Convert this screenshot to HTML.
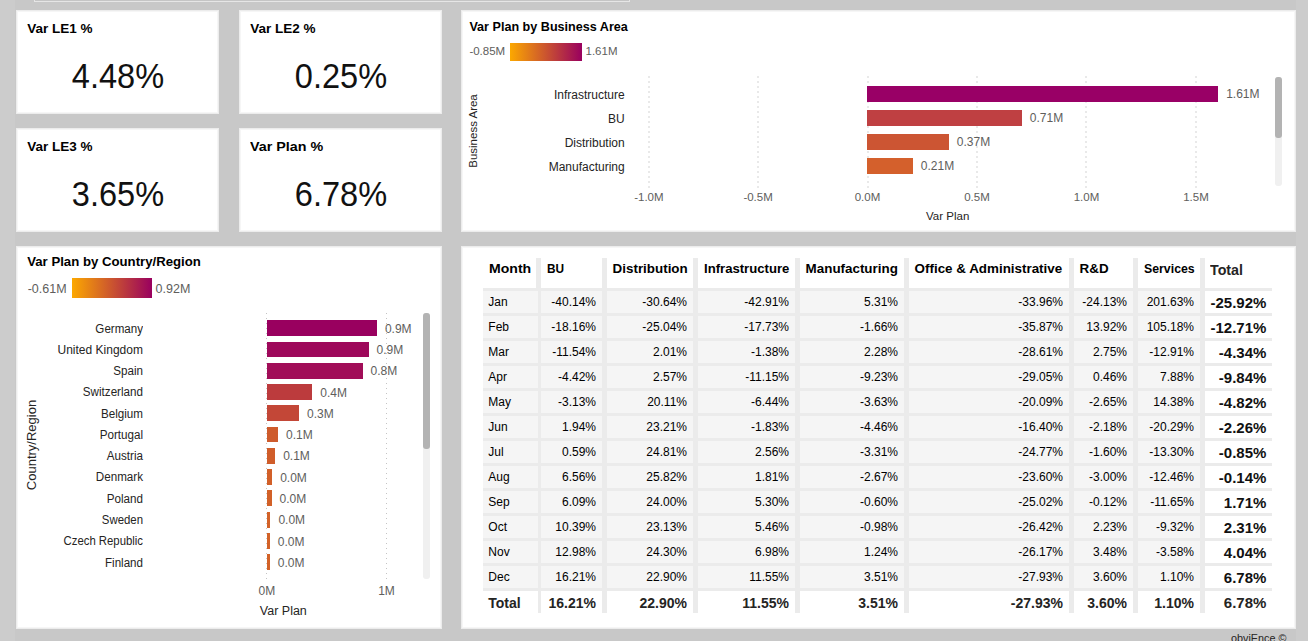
<!DOCTYPE html>
<html><head><meta charset="utf-8"><style>
html,body{margin:0;padding:0;}
body{width:1308px;height:641px;overflow:hidden;position:relative;background:#c8c8c8;font-family:"Liberation Sans", sans-serif;}
body>div{position:absolute;}
.t{white-space:nowrap;line-height:1;}
.p{background:#fff;box-sizing:border-box;border:1px solid #ececec;box-shadow:inset 0 0 0 1px #f6f6f6;}
</style></head><body>
<div style="left:0px;top:0px;width:15px;height:641px;background:#cccccc"></div>
<div style="left:1296px;top:0px;width:12px;height:641px;background:#cccccc"></div>
<div style="left:34px;top:-10px;width:596px;height:12px;background:#c5c5c5;border:1px solid #e6e6e6;box-sizing:border-box"></div>
<div class="p" style="left:16px;top:10px;width:203px;height:104px;"></div>
<div class="t" style="left:27.2px;top:22.27px;font-size:13.5px;font-weight:700;color:#000;">Var LE1 %</div>
<div class="t" style="left:-182.5px;width:600px;text-align:center;top:58.95px;font-size:35.5px;font-weight:400;color:#111;transform:scaleX(0.917);transform-origin:center 0;">4.48%</div>
<div class="p" style="left:239px;top:10px;width:203px;height:104px;"></div>
<div class="t" style="left:250.2px;top:22.27px;font-size:13.5px;font-weight:700;color:#000;">Var LE2 %</div>
<div class="t" style="left:40.5px;width:600px;text-align:center;top:58.95px;font-size:35.5px;font-weight:400;color:#111;transform:scaleX(0.917);transform-origin:center 0;">0.25%</div>
<div class="p" style="left:16px;top:128px;width:203px;height:104px;"></div>
<div class="t" style="left:27.2px;top:140.27px;font-size:13.5px;font-weight:700;color:#000;">Var LE3 %</div>
<div class="t" style="left:-182.5px;width:600px;text-align:center;top:176.95px;font-size:35.5px;font-weight:400;color:#111;transform:scaleX(0.917);transform-origin:center 0;">3.65%</div>
<div class="p" style="left:239px;top:128px;width:203px;height:104px;"></div>
<div class="t" style="left:250.2px;top:140.27px;font-size:13.5px;font-weight:700;color:#000;transform:scaleX(1.06);transform-origin:left 0;">Var Plan %</div>
<div class="t" style="left:40.5px;width:600px;text-align:center;top:176.95px;font-size:35.5px;font-weight:400;color:#111;transform:scaleX(0.917);transform-origin:center 0;">6.78%</div>
<div class="p" style="left:461px;top:10px;width:835px;height:222px;"></div>
<div class="t" style="left:469.4px;top:21.33px;font-size:12.6px;font-weight:700;color:#000;">Var Plan by Business Area</div>
<div class="t" style="left:469.4px;top:45.67px;font-size:11.5px;font-weight:400;color:#605e5c;">-0.85M</div>
<div style="left:509.5px;top:43px;width:72px;height:18px;background:linear-gradient(to right,#fca800,#99005f)"></div>
<div class="t" style="left:585.5px;top:45.67px;font-size:11.5px;font-weight:400;color:#605e5c;">1.61M</div>
<div style="left:648px;top:76px;width:2px;height:112px;background:repeating-linear-gradient(to bottom,#e9e9e9 0 2px,transparent 2px 5px)"></div>
<div style="left:757px;top:76px;width:2px;height:112px;background:repeating-linear-gradient(to bottom,#e9e9e9 0 2px,transparent 2px 5px)"></div>
<div style="left:867px;top:76px;width:2px;height:112px;background:repeating-linear-gradient(to bottom,#e9e9e9 0 2px,transparent 2px 5px)"></div>
<div style="left:976px;top:76px;width:2px;height:112px;background:repeating-linear-gradient(to bottom,#e9e9e9 0 2px,transparent 2px 5px)"></div>
<div style="left:1085px;top:76px;width:2px;height:112px;background:repeating-linear-gradient(to bottom,#e9e9e9 0 2px,transparent 2px 5px)"></div>
<div style="left:1195px;top:76px;width:2px;height:112px;background:repeating-linear-gradient(to bottom,#e9e9e9 0 2px,transparent 2px 5px)"></div>
<div style="left:867px;top:86px;width:351.20000000000005px;height:16px;background:#990066"></div>
<div class="t" style="left:24.700000000000045px;width:600px;text-align:right;top:88.84px;font-size:12px;font-weight:400;color:#252423;">Infrastructure</div>
<div class="t" style="left:1226.2px;top:87.84px;font-size:12px;font-weight:400;color:#605e5c;">1.61M</div>
<div style="left:867px;top:110px;width:154.79999999999995px;height:16px;background:#bf4042"></div>
<div class="t" style="left:24.700000000000045px;width:600px;text-align:right;top:112.84px;font-size:12px;font-weight:400;color:#252423;">BU</div>
<div class="t" style="left:1029.8px;top:111.84px;font-size:12px;font-weight:400;color:#605e5c;">0.71M</div>
<div style="left:867px;top:134px;width:81.79999999999995px;height:16px;background:#cc5533"></div>
<div class="t" style="left:24.700000000000045px;width:600px;text-align:right;top:136.84px;font-size:12px;font-weight:400;color:#252423;">Distribution</div>
<div class="t" style="left:956.8px;top:135.84px;font-size:12px;font-weight:400;color:#605e5c;">0.37M</div>
<div style="left:867px;top:158px;width:45.799999999999955px;height:16px;background:#d4602c"></div>
<div class="t" style="left:24.700000000000045px;width:600px;text-align:right;top:160.84px;font-size:12px;font-weight:400;color:#252423;">Manufacturing</div>
<div class="t" style="left:920.8px;top:159.84px;font-size:12px;font-weight:400;color:#605e5c;">0.21M</div>
<div class="t" style="left:348.9px;width:600px;text-align:center;top:192.07px;font-size:11.5px;font-weight:400;color:#605e5c;">-1.0M</div>
<div class="t" style="left:458.1px;width:600px;text-align:center;top:192.07px;font-size:11.5px;font-weight:400;color:#605e5c;">-0.5M</div>
<div class="t" style="left:567.5px;width:600px;text-align:center;top:192.07px;font-size:11.5px;font-weight:400;color:#605e5c;">0.0M</div>
<div class="t" style="left:677px;width:600px;text-align:center;top:192.07px;font-size:11.5px;font-weight:400;color:#605e5c;">0.5M</div>
<div class="t" style="left:786.5px;width:600px;text-align:center;top:192.07px;font-size:11.5px;font-weight:400;color:#605e5c;">1.0M</div>
<div class="t" style="left:896px;width:600px;text-align:center;top:192.07px;font-size:11.5px;font-weight:400;color:#605e5c;">1.5M</div>
<div class="t" style="left:647.7px;width:600px;text-align:center;top:210.87px;font-size:11.5px;font-weight:400;color:#252423;">Var Plan</div>
<div class="t" style="left:423.2px;top:124px;width:100px;text-align:center;font-size:11.5px;line-height:14px;color:#252423;transform:rotate(-90deg);">Business Area</div>
<div style="left:1275px;top:77px;width:7px;height:109px;background:#f0f0f0;border-radius:3px"></div>
<div style="left:1275px;top:77px;width:7px;height:61px;background:#b3b3b3;border-radius:3px"></div>
<div class="p" style="left:16px;top:246px;width:426px;height:383px;"></div>
<div class="t" style="left:27.2px;top:255.33px;font-size:13.2px;font-weight:700;color:#000;">Var Plan by Country/Region</div>
<div class="t" style="left:27.7px;top:282.82px;font-size:12.5px;font-weight:400;color:#605e5c;">-0.61M</div>
<div style="left:72px;top:278px;width:80px;height:20px;background:linear-gradient(to right,#fca800,#99005f)"></div>
<div class="t" style="left:155.6px;top:282.82px;font-size:12.5px;font-weight:400;color:#605e5c;">0.92M</div>
<div style="left:266px;top:313px;width:1px;height:267px;background:repeating-linear-gradient(to bottom,#c4c4c4 0 1px,transparent 1px 5px)"></div>
<div style="left:386px;top:313px;width:1px;height:267px;background:repeating-linear-gradient(to bottom,#c4c4c4 0 1px,transparent 1px 5px)"></div>
<div style="left:266.8px;top:320.3px;width:110.12px;height:15.8px;background:#99005f"></div>
<div class="t" style="left:-457.1px;width:600px;text-align:right;top:322.54px;font-size:12px;font-weight:400;color:#252423;transform:scaleX(0.965);transform-origin:right 0;">Germany</div>
<div class="t" style="left:384.92400000000004px;top:322.84px;font-size:12px;font-weight:400;color:#605e5c;">0.9M</div>
<div style="left:266.8px;top:341.57px;width:101.75px;height:15.8px;background:#9e085b"></div>
<div class="t" style="left:-457.1px;width:600px;text-align:right;top:343.81px;font-size:12px;font-weight:400;color:#252423;">United Kingdom</div>
<div class="t" style="left:376.545px;top:344.11px;font-size:12px;font-weight:400;color:#605e5c;">0.9M</div>
<div style="left:266.8px;top:362.84px;width:95.76px;height:15.8px;background:#a10d58"></div>
<div class="t" style="left:-457.1px;width:600px;text-align:right;top:365.08px;font-size:12px;font-weight:400;color:#252423;transform:scaleX(0.97);transform-origin:right 0;">Spain</div>
<div class="t" style="left:370.56px;top:365.38px;font-size:12px;font-weight:400;color:#605e5c;">0.8M</div>
<div style="left:266.8px;top:384.11px;width:45.49px;height:15.8px;background:#bc3b3d"></div>
<div class="t" style="left:-457.1px;width:600px;text-align:right;top:386.35px;font-size:12px;font-weight:400;color:#252423;transform:scaleX(0.97);transform-origin:right 0;">Switzerland</div>
<div class="t" style="left:320.286px;top:386.65px;font-size:12px;font-weight:400;color:#605e5c;">0.4M</div>
<div style="left:266.8px;top:405.38px;width:32.32px;height:15.8px;background:#c34737"></div>
<div class="t" style="left:-457.1px;width:600px;text-align:right;top:407.62px;font-size:12px;font-weight:400;color:#252423;transform:scaleX(0.97);transform-origin:right 0;">Belgium</div>
<div class="t" style="left:307.119px;top:407.92px;font-size:12px;font-weight:400;color:#605e5c;">0.3M</div>
<div style="left:266.8px;top:426.65px;width:11.25px;height:15.8px;background:#ce5b2c"></div>
<div class="t" style="left:-457.1px;width:600px;text-align:right;top:428.89px;font-size:12px;font-weight:400;color:#252423;transform:scaleX(0.97);transform-origin:right 0;">Portugal</div>
<div class="t" style="left:286.0518px;top:429.19px;font-size:12px;font-weight:400;color:#605e5c;">0.1M</div>
<div style="left:266.8px;top:447.92px;width:8.38px;height:15.8px;background:#d05d2a"></div>
<div class="t" style="left:-457.1px;width:600px;text-align:right;top:450.16px;font-size:12px;font-weight:400;color:#252423;transform:scaleX(0.97);transform-origin:right 0;">Austria</div>
<div class="t" style="left:283.17900000000003px;top:450.46px;font-size:12px;font-weight:400;color:#605e5c;">0.1M</div>
<div style="left:266.8px;top:469.19px;width:5.39px;height:15.8px;background:#d26029"></div>
<div class="t" style="left:-457.1px;width:600px;text-align:right;top:471.43px;font-size:12px;font-weight:400;color:#252423;transform:scaleX(0.97);transform-origin:right 0;">Denmark</div>
<div class="t" style="left:280.1865px;top:471.73px;font-size:12px;font-weight:400;color:#605e5c;">0.0M</div>
<div style="left:266.8px;top:490.46px;width:4.79px;height:15.8px;background:#d26128"></div>
<div class="t" style="left:-457.1px;width:600px;text-align:right;top:492.70px;font-size:12px;font-weight:400;color:#252423;transform:scaleX(0.97);transform-origin:right 0;">Poland</div>
<div class="t" style="left:279.588px;top:493.00px;font-size:12px;font-weight:400;color:#605e5c;">0.0M</div>
<div style="left:266.8px;top:511.73px;width:3.59px;height:15.8px;background:#d36228"></div>
<div class="t" style="left:-457.1px;width:600px;text-align:right;top:513.97px;font-size:12px;font-weight:400;color:#252423;transform:scaleX(0.95);transform-origin:right 0;">Sweden</div>
<div class="t" style="left:278.391px;top:514.27px;font-size:12px;font-weight:400;color:#605e5c;">0.0M</div>
<div style="left:266.8px;top:533.0px;width:2.99px;height:15.8px;background:#d36227"></div>
<div class="t" style="left:-457.1px;width:600px;text-align:right;top:535.24px;font-size:12px;font-weight:400;color:#252423;transform:scaleX(0.945);transform-origin:right 0;">Czech Republic</div>
<div class="t" style="left:277.7925px;top:535.54px;font-size:12px;font-weight:400;color:#605e5c;">0.0M</div>
<div style="left:266.8px;top:554.27px;width:2.99px;height:15.8px;background:#d36227"></div>
<div class="t" style="left:-457.1px;width:600px;text-align:right;top:556.51px;font-size:12px;font-weight:400;color:#252423;transform:scaleX(0.965);transform-origin:right 0;">Finland</div>
<div class="t" style="left:277.7925px;top:556.81px;font-size:12px;font-weight:400;color:#605e5c;">0.0M</div>
<div class="t" style="left:-33.19999999999999px;width:600px;text-align:center;top:584.64px;font-size:12px;font-weight:400;color:#605e5c;">0M</div>
<div class="t" style="left:86.5px;width:600px;text-align:center;top:584.64px;font-size:12px;font-weight:400;color:#605e5c;">1M</div>
<div class="t" style="left:259.8px;top:605.02px;font-size:12.5px;font-weight:400;color:#252423;">Var Plan</div>
<div class="t" style="left:-17.7px;top:438px;width:100px;text-align:center;font-size:13px;line-height:14px;color:#252423;transform:rotate(-90deg);">Country/Region</div>
<div style="left:423px;top:313px;width:7px;height:266px;background:#f0f0f0;border-radius:3px"></div>
<div style="left:423px;top:313px;width:7px;height:136px;background:#b3b3b3;border-radius:3px"></div>
<div class="p" style="left:461px;top:246px;width:835px;height:383px;"></div>
<div style="left:536px;top:258px;width:5px;height:30px;background:#ebebeb"></div>
<div style="left:602px;top:258px;width:5px;height:30px;background:#ebebeb"></div>
<div style="left:693px;top:258px;width:5px;height:30px;background:#ebebeb"></div>
<div style="left:795px;top:258px;width:5px;height:30px;background:#ebebeb"></div>
<div style="left:904px;top:258px;width:5px;height:30px;background:#ebebeb"></div>
<div style="left:1069px;top:258px;width:5px;height:30px;background:#ebebeb"></div>
<div style="left:1133px;top:258px;width:5px;height:30px;background:#ebebeb"></div>
<div style="left:1200px;top:258px;width:5px;height:30px;background:#ebebeb"></div>
<div style="left:483px;top:288px;width:789px;height:3px;background:#ebebeb"></div>
<div style="left:483px;top:313px;width:789px;height:3px;background:#ebebeb"></div>
<div style="left:483px;top:338px;width:789px;height:3px;background:#ebebeb"></div>
<div style="left:483px;top:363px;width:789px;height:3px;background:#ebebeb"></div>
<div style="left:483px;top:388px;width:789px;height:3px;background:#ebebeb"></div>
<div style="left:483px;top:413px;width:789px;height:3px;background:#ebebeb"></div>
<div style="left:483px;top:438px;width:789px;height:3px;background:#ebebeb"></div>
<div style="left:483px;top:463px;width:789px;height:3px;background:#ebebeb"></div>
<div style="left:483px;top:488px;width:789px;height:3px;background:#ebebeb"></div>
<div style="left:483px;top:513px;width:789px;height:3px;background:#ebebeb"></div>
<div style="left:483px;top:538px;width:789px;height:3px;background:#ebebeb"></div>
<div style="left:483px;top:563px;width:789px;height:3px;background:#ebebeb"></div>
<div style="left:483px;top:588px;width:789px;height:3px;background:#ebebeb"></div>
<div style="left:483px;top:291px;width:55px;height:22px;background:#f5f5f5"></div>
<div style="left:541px;top:291px;width:61px;height:22px;background:#f5f5f5"></div>
<div style="left:607px;top:291px;width:86px;height:22px;background:#f5f5f5"></div>
<div style="left:698px;top:291px;width:97px;height:22px;background:#f5f5f5"></div>
<div style="left:800px;top:291px;width:104px;height:22px;background:#f5f5f5"></div>
<div style="left:909px;top:291px;width:160px;height:22px;background:#f5f5f5"></div>
<div style="left:1074px;top:291px;width:59px;height:22px;background:#f5f5f5"></div>
<div style="left:1138px;top:291px;width:62px;height:22px;background:#f5f5f5"></div>
<div style="left:538px;top:291px;width:3px;height:22px;background:#ebebeb"></div>
<div style="left:602px;top:291px;width:5px;height:22px;background:#ebebeb"></div>
<div style="left:693px;top:291px;width:5px;height:22px;background:#ebebeb"></div>
<div style="left:795px;top:291px;width:5px;height:22px;background:#ebebeb"></div>
<div style="left:904px;top:291px;width:5px;height:22px;background:#ebebeb"></div>
<div style="left:1069px;top:291px;width:5px;height:22px;background:#ebebeb"></div>
<div style="left:1133px;top:291px;width:5px;height:22px;background:#ebebeb"></div>
<div style="left:1200px;top:291px;width:5px;height:22px;background:#ebebeb"></div>
<div style="left:483px;top:316px;width:55px;height:22px;background:#f5f5f5"></div>
<div style="left:541px;top:316px;width:61px;height:22px;background:#f5f5f5"></div>
<div style="left:607px;top:316px;width:86px;height:22px;background:#f5f5f5"></div>
<div style="left:698px;top:316px;width:97px;height:22px;background:#f5f5f5"></div>
<div style="left:800px;top:316px;width:104px;height:22px;background:#f5f5f5"></div>
<div style="left:909px;top:316px;width:160px;height:22px;background:#f5f5f5"></div>
<div style="left:1074px;top:316px;width:59px;height:22px;background:#f5f5f5"></div>
<div style="left:1138px;top:316px;width:62px;height:22px;background:#f5f5f5"></div>
<div style="left:538px;top:316px;width:3px;height:22px;background:#ebebeb"></div>
<div style="left:602px;top:316px;width:5px;height:22px;background:#ebebeb"></div>
<div style="left:693px;top:316px;width:5px;height:22px;background:#ebebeb"></div>
<div style="left:795px;top:316px;width:5px;height:22px;background:#ebebeb"></div>
<div style="left:904px;top:316px;width:5px;height:22px;background:#ebebeb"></div>
<div style="left:1069px;top:316px;width:5px;height:22px;background:#ebebeb"></div>
<div style="left:1133px;top:316px;width:5px;height:22px;background:#ebebeb"></div>
<div style="left:1200px;top:316px;width:5px;height:22px;background:#ebebeb"></div>
<div style="left:483px;top:341px;width:55px;height:22px;background:#f5f5f5"></div>
<div style="left:541px;top:341px;width:61px;height:22px;background:#f5f5f5"></div>
<div style="left:607px;top:341px;width:86px;height:22px;background:#f5f5f5"></div>
<div style="left:698px;top:341px;width:97px;height:22px;background:#f5f5f5"></div>
<div style="left:800px;top:341px;width:104px;height:22px;background:#f5f5f5"></div>
<div style="left:909px;top:341px;width:160px;height:22px;background:#f5f5f5"></div>
<div style="left:1074px;top:341px;width:59px;height:22px;background:#f5f5f5"></div>
<div style="left:1138px;top:341px;width:62px;height:22px;background:#f5f5f5"></div>
<div style="left:538px;top:341px;width:3px;height:22px;background:#ebebeb"></div>
<div style="left:602px;top:341px;width:5px;height:22px;background:#ebebeb"></div>
<div style="left:693px;top:341px;width:5px;height:22px;background:#ebebeb"></div>
<div style="left:795px;top:341px;width:5px;height:22px;background:#ebebeb"></div>
<div style="left:904px;top:341px;width:5px;height:22px;background:#ebebeb"></div>
<div style="left:1069px;top:341px;width:5px;height:22px;background:#ebebeb"></div>
<div style="left:1133px;top:341px;width:5px;height:22px;background:#ebebeb"></div>
<div style="left:1200px;top:341px;width:5px;height:22px;background:#ebebeb"></div>
<div style="left:483px;top:366px;width:55px;height:22px;background:#f5f5f5"></div>
<div style="left:541px;top:366px;width:61px;height:22px;background:#f5f5f5"></div>
<div style="left:607px;top:366px;width:86px;height:22px;background:#f5f5f5"></div>
<div style="left:698px;top:366px;width:97px;height:22px;background:#f5f5f5"></div>
<div style="left:800px;top:366px;width:104px;height:22px;background:#f5f5f5"></div>
<div style="left:909px;top:366px;width:160px;height:22px;background:#f5f5f5"></div>
<div style="left:1074px;top:366px;width:59px;height:22px;background:#f5f5f5"></div>
<div style="left:1138px;top:366px;width:62px;height:22px;background:#f5f5f5"></div>
<div style="left:538px;top:366px;width:3px;height:22px;background:#ebebeb"></div>
<div style="left:602px;top:366px;width:5px;height:22px;background:#ebebeb"></div>
<div style="left:693px;top:366px;width:5px;height:22px;background:#ebebeb"></div>
<div style="left:795px;top:366px;width:5px;height:22px;background:#ebebeb"></div>
<div style="left:904px;top:366px;width:5px;height:22px;background:#ebebeb"></div>
<div style="left:1069px;top:366px;width:5px;height:22px;background:#ebebeb"></div>
<div style="left:1133px;top:366px;width:5px;height:22px;background:#ebebeb"></div>
<div style="left:1200px;top:366px;width:5px;height:22px;background:#ebebeb"></div>
<div style="left:483px;top:391px;width:55px;height:22px;background:#f5f5f5"></div>
<div style="left:541px;top:391px;width:61px;height:22px;background:#f5f5f5"></div>
<div style="left:607px;top:391px;width:86px;height:22px;background:#f5f5f5"></div>
<div style="left:698px;top:391px;width:97px;height:22px;background:#f5f5f5"></div>
<div style="left:800px;top:391px;width:104px;height:22px;background:#f5f5f5"></div>
<div style="left:909px;top:391px;width:160px;height:22px;background:#f5f5f5"></div>
<div style="left:1074px;top:391px;width:59px;height:22px;background:#f5f5f5"></div>
<div style="left:1138px;top:391px;width:62px;height:22px;background:#f5f5f5"></div>
<div style="left:538px;top:391px;width:3px;height:22px;background:#ebebeb"></div>
<div style="left:602px;top:391px;width:5px;height:22px;background:#ebebeb"></div>
<div style="left:693px;top:391px;width:5px;height:22px;background:#ebebeb"></div>
<div style="left:795px;top:391px;width:5px;height:22px;background:#ebebeb"></div>
<div style="left:904px;top:391px;width:5px;height:22px;background:#ebebeb"></div>
<div style="left:1069px;top:391px;width:5px;height:22px;background:#ebebeb"></div>
<div style="left:1133px;top:391px;width:5px;height:22px;background:#ebebeb"></div>
<div style="left:1200px;top:391px;width:5px;height:22px;background:#ebebeb"></div>
<div style="left:483px;top:416px;width:55px;height:22px;background:#f5f5f5"></div>
<div style="left:541px;top:416px;width:61px;height:22px;background:#f5f5f5"></div>
<div style="left:607px;top:416px;width:86px;height:22px;background:#f5f5f5"></div>
<div style="left:698px;top:416px;width:97px;height:22px;background:#f5f5f5"></div>
<div style="left:800px;top:416px;width:104px;height:22px;background:#f5f5f5"></div>
<div style="left:909px;top:416px;width:160px;height:22px;background:#f5f5f5"></div>
<div style="left:1074px;top:416px;width:59px;height:22px;background:#f5f5f5"></div>
<div style="left:1138px;top:416px;width:62px;height:22px;background:#f5f5f5"></div>
<div style="left:538px;top:416px;width:3px;height:22px;background:#ebebeb"></div>
<div style="left:602px;top:416px;width:5px;height:22px;background:#ebebeb"></div>
<div style="left:693px;top:416px;width:5px;height:22px;background:#ebebeb"></div>
<div style="left:795px;top:416px;width:5px;height:22px;background:#ebebeb"></div>
<div style="left:904px;top:416px;width:5px;height:22px;background:#ebebeb"></div>
<div style="left:1069px;top:416px;width:5px;height:22px;background:#ebebeb"></div>
<div style="left:1133px;top:416px;width:5px;height:22px;background:#ebebeb"></div>
<div style="left:1200px;top:416px;width:5px;height:22px;background:#ebebeb"></div>
<div style="left:483px;top:441px;width:55px;height:22px;background:#f5f5f5"></div>
<div style="left:541px;top:441px;width:61px;height:22px;background:#f5f5f5"></div>
<div style="left:607px;top:441px;width:86px;height:22px;background:#f5f5f5"></div>
<div style="left:698px;top:441px;width:97px;height:22px;background:#f5f5f5"></div>
<div style="left:800px;top:441px;width:104px;height:22px;background:#f5f5f5"></div>
<div style="left:909px;top:441px;width:160px;height:22px;background:#f5f5f5"></div>
<div style="left:1074px;top:441px;width:59px;height:22px;background:#f5f5f5"></div>
<div style="left:1138px;top:441px;width:62px;height:22px;background:#f5f5f5"></div>
<div style="left:538px;top:441px;width:3px;height:22px;background:#ebebeb"></div>
<div style="left:602px;top:441px;width:5px;height:22px;background:#ebebeb"></div>
<div style="left:693px;top:441px;width:5px;height:22px;background:#ebebeb"></div>
<div style="left:795px;top:441px;width:5px;height:22px;background:#ebebeb"></div>
<div style="left:904px;top:441px;width:5px;height:22px;background:#ebebeb"></div>
<div style="left:1069px;top:441px;width:5px;height:22px;background:#ebebeb"></div>
<div style="left:1133px;top:441px;width:5px;height:22px;background:#ebebeb"></div>
<div style="left:1200px;top:441px;width:5px;height:22px;background:#ebebeb"></div>
<div style="left:483px;top:466px;width:55px;height:22px;background:#f5f5f5"></div>
<div style="left:541px;top:466px;width:61px;height:22px;background:#f5f5f5"></div>
<div style="left:607px;top:466px;width:86px;height:22px;background:#f5f5f5"></div>
<div style="left:698px;top:466px;width:97px;height:22px;background:#f5f5f5"></div>
<div style="left:800px;top:466px;width:104px;height:22px;background:#f5f5f5"></div>
<div style="left:909px;top:466px;width:160px;height:22px;background:#f5f5f5"></div>
<div style="left:1074px;top:466px;width:59px;height:22px;background:#f5f5f5"></div>
<div style="left:1138px;top:466px;width:62px;height:22px;background:#f5f5f5"></div>
<div style="left:538px;top:466px;width:3px;height:22px;background:#ebebeb"></div>
<div style="left:602px;top:466px;width:5px;height:22px;background:#ebebeb"></div>
<div style="left:693px;top:466px;width:5px;height:22px;background:#ebebeb"></div>
<div style="left:795px;top:466px;width:5px;height:22px;background:#ebebeb"></div>
<div style="left:904px;top:466px;width:5px;height:22px;background:#ebebeb"></div>
<div style="left:1069px;top:466px;width:5px;height:22px;background:#ebebeb"></div>
<div style="left:1133px;top:466px;width:5px;height:22px;background:#ebebeb"></div>
<div style="left:1200px;top:466px;width:5px;height:22px;background:#ebebeb"></div>
<div style="left:483px;top:491px;width:55px;height:22px;background:#f5f5f5"></div>
<div style="left:541px;top:491px;width:61px;height:22px;background:#f5f5f5"></div>
<div style="left:607px;top:491px;width:86px;height:22px;background:#f5f5f5"></div>
<div style="left:698px;top:491px;width:97px;height:22px;background:#f5f5f5"></div>
<div style="left:800px;top:491px;width:104px;height:22px;background:#f5f5f5"></div>
<div style="left:909px;top:491px;width:160px;height:22px;background:#f5f5f5"></div>
<div style="left:1074px;top:491px;width:59px;height:22px;background:#f5f5f5"></div>
<div style="left:1138px;top:491px;width:62px;height:22px;background:#f5f5f5"></div>
<div style="left:538px;top:491px;width:3px;height:22px;background:#ebebeb"></div>
<div style="left:602px;top:491px;width:5px;height:22px;background:#ebebeb"></div>
<div style="left:693px;top:491px;width:5px;height:22px;background:#ebebeb"></div>
<div style="left:795px;top:491px;width:5px;height:22px;background:#ebebeb"></div>
<div style="left:904px;top:491px;width:5px;height:22px;background:#ebebeb"></div>
<div style="left:1069px;top:491px;width:5px;height:22px;background:#ebebeb"></div>
<div style="left:1133px;top:491px;width:5px;height:22px;background:#ebebeb"></div>
<div style="left:1200px;top:491px;width:5px;height:22px;background:#ebebeb"></div>
<div style="left:483px;top:516px;width:55px;height:22px;background:#f5f5f5"></div>
<div style="left:541px;top:516px;width:61px;height:22px;background:#f5f5f5"></div>
<div style="left:607px;top:516px;width:86px;height:22px;background:#f5f5f5"></div>
<div style="left:698px;top:516px;width:97px;height:22px;background:#f5f5f5"></div>
<div style="left:800px;top:516px;width:104px;height:22px;background:#f5f5f5"></div>
<div style="left:909px;top:516px;width:160px;height:22px;background:#f5f5f5"></div>
<div style="left:1074px;top:516px;width:59px;height:22px;background:#f5f5f5"></div>
<div style="left:1138px;top:516px;width:62px;height:22px;background:#f5f5f5"></div>
<div style="left:538px;top:516px;width:3px;height:22px;background:#ebebeb"></div>
<div style="left:602px;top:516px;width:5px;height:22px;background:#ebebeb"></div>
<div style="left:693px;top:516px;width:5px;height:22px;background:#ebebeb"></div>
<div style="left:795px;top:516px;width:5px;height:22px;background:#ebebeb"></div>
<div style="left:904px;top:516px;width:5px;height:22px;background:#ebebeb"></div>
<div style="left:1069px;top:516px;width:5px;height:22px;background:#ebebeb"></div>
<div style="left:1133px;top:516px;width:5px;height:22px;background:#ebebeb"></div>
<div style="left:1200px;top:516px;width:5px;height:22px;background:#ebebeb"></div>
<div style="left:483px;top:541px;width:55px;height:22px;background:#f5f5f5"></div>
<div style="left:541px;top:541px;width:61px;height:22px;background:#f5f5f5"></div>
<div style="left:607px;top:541px;width:86px;height:22px;background:#f5f5f5"></div>
<div style="left:698px;top:541px;width:97px;height:22px;background:#f5f5f5"></div>
<div style="left:800px;top:541px;width:104px;height:22px;background:#f5f5f5"></div>
<div style="left:909px;top:541px;width:160px;height:22px;background:#f5f5f5"></div>
<div style="left:1074px;top:541px;width:59px;height:22px;background:#f5f5f5"></div>
<div style="left:1138px;top:541px;width:62px;height:22px;background:#f5f5f5"></div>
<div style="left:538px;top:541px;width:3px;height:22px;background:#ebebeb"></div>
<div style="left:602px;top:541px;width:5px;height:22px;background:#ebebeb"></div>
<div style="left:693px;top:541px;width:5px;height:22px;background:#ebebeb"></div>
<div style="left:795px;top:541px;width:5px;height:22px;background:#ebebeb"></div>
<div style="left:904px;top:541px;width:5px;height:22px;background:#ebebeb"></div>
<div style="left:1069px;top:541px;width:5px;height:22px;background:#ebebeb"></div>
<div style="left:1133px;top:541px;width:5px;height:22px;background:#ebebeb"></div>
<div style="left:1200px;top:541px;width:5px;height:22px;background:#ebebeb"></div>
<div style="left:483px;top:566px;width:55px;height:22px;background:#f5f5f5"></div>
<div style="left:541px;top:566px;width:61px;height:22px;background:#f5f5f5"></div>
<div style="left:607px;top:566px;width:86px;height:22px;background:#f5f5f5"></div>
<div style="left:698px;top:566px;width:97px;height:22px;background:#f5f5f5"></div>
<div style="left:800px;top:566px;width:104px;height:22px;background:#f5f5f5"></div>
<div style="left:909px;top:566px;width:160px;height:22px;background:#f5f5f5"></div>
<div style="left:1074px;top:566px;width:59px;height:22px;background:#f5f5f5"></div>
<div style="left:1138px;top:566px;width:62px;height:22px;background:#f5f5f5"></div>
<div style="left:538px;top:566px;width:3px;height:22px;background:#ebebeb"></div>
<div style="left:602px;top:566px;width:5px;height:22px;background:#ebebeb"></div>
<div style="left:693px;top:566px;width:5px;height:22px;background:#ebebeb"></div>
<div style="left:795px;top:566px;width:5px;height:22px;background:#ebebeb"></div>
<div style="left:904px;top:566px;width:5px;height:22px;background:#ebebeb"></div>
<div style="left:1069px;top:566px;width:5px;height:22px;background:#ebebeb"></div>
<div style="left:1133px;top:566px;width:5px;height:22px;background:#ebebeb"></div>
<div style="left:1200px;top:566px;width:5px;height:22px;background:#ebebeb"></div>
<div style="left:538px;top:591px;width:3px;height:22px;background:#ebebeb"></div>
<div style="left:602px;top:591px;width:5px;height:22px;background:#ebebeb"></div>
<div style="left:693px;top:591px;width:5px;height:22px;background:#ebebeb"></div>
<div style="left:795px;top:591px;width:5px;height:22px;background:#ebebeb"></div>
<div style="left:904px;top:591px;width:5px;height:22px;background:#ebebeb"></div>
<div style="left:1069px;top:591px;width:5px;height:22px;background:#ebebeb"></div>
<div style="left:1133px;top:591px;width:5px;height:22px;background:#ebebeb"></div>
<div style="left:1200px;top:591px;width:5px;height:22px;background:#ebebeb"></div>
<div class="t" style="left:488.6px;top:261.66px;font-size:13.4px;font-weight:700;color:#000;transform:scaleX(1.05);transform-origin:left 0;">Month</div>
<div class="t" style="left:546.6px;top:261.66px;font-size:13.4px;font-weight:700;color:#000;transform:scaleX(0.885);transform-origin:left 0;">BU</div>
<div class="t" style="left:612.6px;top:261.66px;font-size:13.4px;font-weight:700;color:#000;">Distribution</div>
<div class="t" style="left:703.6px;top:261.66px;font-size:13.4px;font-weight:700;color:#000;transform:scaleX(0.98);transform-origin:left 0;">Infrastructure</div>
<div class="t" style="left:805.6px;top:261.66px;font-size:13.4px;font-weight:700;color:#000;">Manufacturing</div>
<div class="t" style="left:914.6px;top:261.66px;font-size:13.4px;font-weight:700;color:#000;">Office &amp; Administrative</div>
<div class="t" style="left:1079.6px;top:261.66px;font-size:13.4px;font-weight:700;color:#000;">R&amp;D</div>
<div class="t" style="left:1143.6px;top:261.66px;font-size:13.4px;font-weight:700;color:#000;transform:scaleX(0.92);transform-origin:left 0;">Services</div>
<div class="t" style="left:1210.1px;top:261.90px;font-size:15px;font-weight:700;color:#252423;transform:scaleX(0.95);transform-origin:left 0;">Total</div>
<div class="t" style="left:488.3px;top:295.54px;font-size:12px;font-weight:400;color:#000;">Jan</div>
<div class="t" style="left:-4px;width:600px;text-align:right;top:295.54px;font-size:12px;font-weight:400;color:#000;">-40.14%</div>
<div class="t" style="left:87px;width:600px;text-align:right;top:295.54px;font-size:12px;font-weight:400;color:#000;">-30.64%</div>
<div class="t" style="left:189px;width:600px;text-align:right;top:295.54px;font-size:12px;font-weight:400;color:#000;">-42.91%</div>
<div class="t" style="left:298px;width:600px;text-align:right;top:295.54px;font-size:12px;font-weight:400;color:#000;">5.31%</div>
<div class="t" style="left:463px;width:600px;text-align:right;top:295.54px;font-size:12px;font-weight:400;color:#000;">-33.96%</div>
<div class="t" style="left:527px;width:600px;text-align:right;top:295.54px;font-size:12px;font-weight:400;color:#000;">-24.13%</div>
<div class="t" style="left:594px;width:600px;text-align:right;top:295.54px;font-size:12px;font-weight:400;color:#000;">201.63%</div>
<div class="t" style="left:666.4000000000001px;width:600px;text-align:right;top:295.00px;font-size:15px;font-weight:700;color:#111;">-25.92%</div>
<div class="t" style="left:488.3px;top:320.54px;font-size:12px;font-weight:400;color:#000;">Feb</div>
<div class="t" style="left:-4px;width:600px;text-align:right;top:320.54px;font-size:12px;font-weight:400;color:#000;">-18.16%</div>
<div class="t" style="left:87px;width:600px;text-align:right;top:320.54px;font-size:12px;font-weight:400;color:#000;">-25.04%</div>
<div class="t" style="left:189px;width:600px;text-align:right;top:320.54px;font-size:12px;font-weight:400;color:#000;">-17.73%</div>
<div class="t" style="left:298px;width:600px;text-align:right;top:320.54px;font-size:12px;font-weight:400;color:#000;">-1.66%</div>
<div class="t" style="left:463px;width:600px;text-align:right;top:320.54px;font-size:12px;font-weight:400;color:#000;">-35.87%</div>
<div class="t" style="left:527px;width:600px;text-align:right;top:320.54px;font-size:12px;font-weight:400;color:#000;">13.92%</div>
<div class="t" style="left:594px;width:600px;text-align:right;top:320.54px;font-size:12px;font-weight:400;color:#000;">105.18%</div>
<div class="t" style="left:666.4000000000001px;width:600px;text-align:right;top:320.00px;font-size:15px;font-weight:700;color:#111;">-12.71%</div>
<div class="t" style="left:488.3px;top:345.54px;font-size:12px;font-weight:400;color:#000;">Mar</div>
<div class="t" style="left:-4px;width:600px;text-align:right;top:345.54px;font-size:12px;font-weight:400;color:#000;">-11.54%</div>
<div class="t" style="left:87px;width:600px;text-align:right;top:345.54px;font-size:12px;font-weight:400;color:#000;">2.01%</div>
<div class="t" style="left:189px;width:600px;text-align:right;top:345.54px;font-size:12px;font-weight:400;color:#000;">-1.38%</div>
<div class="t" style="left:298px;width:600px;text-align:right;top:345.54px;font-size:12px;font-weight:400;color:#000;">2.28%</div>
<div class="t" style="left:463px;width:600px;text-align:right;top:345.54px;font-size:12px;font-weight:400;color:#000;">-28.61%</div>
<div class="t" style="left:527px;width:600px;text-align:right;top:345.54px;font-size:12px;font-weight:400;color:#000;">2.75%</div>
<div class="t" style="left:594px;width:600px;text-align:right;top:345.54px;font-size:12px;font-weight:400;color:#000;">-12.91%</div>
<div class="t" style="left:666.4000000000001px;width:600px;text-align:right;top:345.00px;font-size:15px;font-weight:700;color:#111;">-4.34%</div>
<div class="t" style="left:488.3px;top:370.54px;font-size:12px;font-weight:400;color:#000;">Apr</div>
<div class="t" style="left:-4px;width:600px;text-align:right;top:370.54px;font-size:12px;font-weight:400;color:#000;">-4.42%</div>
<div class="t" style="left:87px;width:600px;text-align:right;top:370.54px;font-size:12px;font-weight:400;color:#000;">2.57%</div>
<div class="t" style="left:189px;width:600px;text-align:right;top:370.54px;font-size:12px;font-weight:400;color:#000;">-11.15%</div>
<div class="t" style="left:298px;width:600px;text-align:right;top:370.54px;font-size:12px;font-weight:400;color:#000;">-9.23%</div>
<div class="t" style="left:463px;width:600px;text-align:right;top:370.54px;font-size:12px;font-weight:400;color:#000;">-29.05%</div>
<div class="t" style="left:527px;width:600px;text-align:right;top:370.54px;font-size:12px;font-weight:400;color:#000;">0.46%</div>
<div class="t" style="left:594px;width:600px;text-align:right;top:370.54px;font-size:12px;font-weight:400;color:#000;">7.88%</div>
<div class="t" style="left:666.4000000000001px;width:600px;text-align:right;top:370.00px;font-size:15px;font-weight:700;color:#111;">-9.84%</div>
<div class="t" style="left:488.3px;top:395.54px;font-size:12px;font-weight:400;color:#000;">May</div>
<div class="t" style="left:-4px;width:600px;text-align:right;top:395.54px;font-size:12px;font-weight:400;color:#000;">-3.13%</div>
<div class="t" style="left:87px;width:600px;text-align:right;top:395.54px;font-size:12px;font-weight:400;color:#000;">20.11%</div>
<div class="t" style="left:189px;width:600px;text-align:right;top:395.54px;font-size:12px;font-weight:400;color:#000;">-6.44%</div>
<div class="t" style="left:298px;width:600px;text-align:right;top:395.54px;font-size:12px;font-weight:400;color:#000;">-3.63%</div>
<div class="t" style="left:463px;width:600px;text-align:right;top:395.54px;font-size:12px;font-weight:400;color:#000;">-20.09%</div>
<div class="t" style="left:527px;width:600px;text-align:right;top:395.54px;font-size:12px;font-weight:400;color:#000;">-2.65%</div>
<div class="t" style="left:594px;width:600px;text-align:right;top:395.54px;font-size:12px;font-weight:400;color:#000;">14.38%</div>
<div class="t" style="left:666.4000000000001px;width:600px;text-align:right;top:395.00px;font-size:15px;font-weight:700;color:#111;">-4.82%</div>
<div class="t" style="left:488.3px;top:420.54px;font-size:12px;font-weight:400;color:#000;">Jun</div>
<div class="t" style="left:-4px;width:600px;text-align:right;top:420.54px;font-size:12px;font-weight:400;color:#000;">1.94%</div>
<div class="t" style="left:87px;width:600px;text-align:right;top:420.54px;font-size:12px;font-weight:400;color:#000;">23.21%</div>
<div class="t" style="left:189px;width:600px;text-align:right;top:420.54px;font-size:12px;font-weight:400;color:#000;">-1.83%</div>
<div class="t" style="left:298px;width:600px;text-align:right;top:420.54px;font-size:12px;font-weight:400;color:#000;">-4.46%</div>
<div class="t" style="left:463px;width:600px;text-align:right;top:420.54px;font-size:12px;font-weight:400;color:#000;">-16.40%</div>
<div class="t" style="left:527px;width:600px;text-align:right;top:420.54px;font-size:12px;font-weight:400;color:#000;">-2.18%</div>
<div class="t" style="left:594px;width:600px;text-align:right;top:420.54px;font-size:12px;font-weight:400;color:#000;">-20.29%</div>
<div class="t" style="left:666.4000000000001px;width:600px;text-align:right;top:420.00px;font-size:15px;font-weight:700;color:#111;">-2.26%</div>
<div class="t" style="left:488.3px;top:445.54px;font-size:12px;font-weight:400;color:#000;">Jul</div>
<div class="t" style="left:-4px;width:600px;text-align:right;top:445.54px;font-size:12px;font-weight:400;color:#000;">0.59%</div>
<div class="t" style="left:87px;width:600px;text-align:right;top:445.54px;font-size:12px;font-weight:400;color:#000;">24.81%</div>
<div class="t" style="left:189px;width:600px;text-align:right;top:445.54px;font-size:12px;font-weight:400;color:#000;">2.56%</div>
<div class="t" style="left:298px;width:600px;text-align:right;top:445.54px;font-size:12px;font-weight:400;color:#000;">-3.31%</div>
<div class="t" style="left:463px;width:600px;text-align:right;top:445.54px;font-size:12px;font-weight:400;color:#000;">-24.77%</div>
<div class="t" style="left:527px;width:600px;text-align:right;top:445.54px;font-size:12px;font-weight:400;color:#000;">-1.60%</div>
<div class="t" style="left:594px;width:600px;text-align:right;top:445.54px;font-size:12px;font-weight:400;color:#000;">-13.30%</div>
<div class="t" style="left:666.4000000000001px;width:600px;text-align:right;top:445.00px;font-size:15px;font-weight:700;color:#111;">-0.85%</div>
<div class="t" style="left:488.3px;top:470.54px;font-size:12px;font-weight:400;color:#000;">Aug</div>
<div class="t" style="left:-4px;width:600px;text-align:right;top:470.54px;font-size:12px;font-weight:400;color:#000;">6.56%</div>
<div class="t" style="left:87px;width:600px;text-align:right;top:470.54px;font-size:12px;font-weight:400;color:#000;">25.82%</div>
<div class="t" style="left:189px;width:600px;text-align:right;top:470.54px;font-size:12px;font-weight:400;color:#000;">1.81%</div>
<div class="t" style="left:298px;width:600px;text-align:right;top:470.54px;font-size:12px;font-weight:400;color:#000;">-2.67%</div>
<div class="t" style="left:463px;width:600px;text-align:right;top:470.54px;font-size:12px;font-weight:400;color:#000;">-23.60%</div>
<div class="t" style="left:527px;width:600px;text-align:right;top:470.54px;font-size:12px;font-weight:400;color:#000;">-3.00%</div>
<div class="t" style="left:594px;width:600px;text-align:right;top:470.54px;font-size:12px;font-weight:400;color:#000;">-12.46%</div>
<div class="t" style="left:666.4000000000001px;width:600px;text-align:right;top:470.00px;font-size:15px;font-weight:700;color:#111;">-0.14%</div>
<div class="t" style="left:488.3px;top:495.54px;font-size:12px;font-weight:400;color:#000;">Sep</div>
<div class="t" style="left:-4px;width:600px;text-align:right;top:495.54px;font-size:12px;font-weight:400;color:#000;">6.09%</div>
<div class="t" style="left:87px;width:600px;text-align:right;top:495.54px;font-size:12px;font-weight:400;color:#000;">24.00%</div>
<div class="t" style="left:189px;width:600px;text-align:right;top:495.54px;font-size:12px;font-weight:400;color:#000;">5.30%</div>
<div class="t" style="left:298px;width:600px;text-align:right;top:495.54px;font-size:12px;font-weight:400;color:#000;">-0.60%</div>
<div class="t" style="left:463px;width:600px;text-align:right;top:495.54px;font-size:12px;font-weight:400;color:#000;">-25.02%</div>
<div class="t" style="left:527px;width:600px;text-align:right;top:495.54px;font-size:12px;font-weight:400;color:#000;">-0.12%</div>
<div class="t" style="left:594px;width:600px;text-align:right;top:495.54px;font-size:12px;font-weight:400;color:#000;">-11.65%</div>
<div class="t" style="left:666.4000000000001px;width:600px;text-align:right;top:495.00px;font-size:15px;font-weight:700;color:#111;">1.71%</div>
<div class="t" style="left:488.3px;top:520.54px;font-size:12px;font-weight:400;color:#000;">Oct</div>
<div class="t" style="left:-4px;width:600px;text-align:right;top:520.54px;font-size:12px;font-weight:400;color:#000;">10.39%</div>
<div class="t" style="left:87px;width:600px;text-align:right;top:520.54px;font-size:12px;font-weight:400;color:#000;">23.13%</div>
<div class="t" style="left:189px;width:600px;text-align:right;top:520.54px;font-size:12px;font-weight:400;color:#000;">5.46%</div>
<div class="t" style="left:298px;width:600px;text-align:right;top:520.54px;font-size:12px;font-weight:400;color:#000;">-0.98%</div>
<div class="t" style="left:463px;width:600px;text-align:right;top:520.54px;font-size:12px;font-weight:400;color:#000;">-26.42%</div>
<div class="t" style="left:527px;width:600px;text-align:right;top:520.54px;font-size:12px;font-weight:400;color:#000;">2.23%</div>
<div class="t" style="left:594px;width:600px;text-align:right;top:520.54px;font-size:12px;font-weight:400;color:#000;">-9.32%</div>
<div class="t" style="left:666.4000000000001px;width:600px;text-align:right;top:520.00px;font-size:15px;font-weight:700;color:#111;">2.31%</div>
<div class="t" style="left:488.3px;top:545.54px;font-size:12px;font-weight:400;color:#000;">Nov</div>
<div class="t" style="left:-4px;width:600px;text-align:right;top:545.54px;font-size:12px;font-weight:400;color:#000;">12.98%</div>
<div class="t" style="left:87px;width:600px;text-align:right;top:545.54px;font-size:12px;font-weight:400;color:#000;">24.30%</div>
<div class="t" style="left:189px;width:600px;text-align:right;top:545.54px;font-size:12px;font-weight:400;color:#000;">6.98%</div>
<div class="t" style="left:298px;width:600px;text-align:right;top:545.54px;font-size:12px;font-weight:400;color:#000;">1.24%</div>
<div class="t" style="left:463px;width:600px;text-align:right;top:545.54px;font-size:12px;font-weight:400;color:#000;">-26.17%</div>
<div class="t" style="left:527px;width:600px;text-align:right;top:545.54px;font-size:12px;font-weight:400;color:#000;">3.48%</div>
<div class="t" style="left:594px;width:600px;text-align:right;top:545.54px;font-size:12px;font-weight:400;color:#000;">-3.58%</div>
<div class="t" style="left:666.4000000000001px;width:600px;text-align:right;top:545.00px;font-size:15px;font-weight:700;color:#111;">4.04%</div>
<div class="t" style="left:488.3px;top:570.54px;font-size:12px;font-weight:400;color:#000;">Dec</div>
<div class="t" style="left:-4px;width:600px;text-align:right;top:570.54px;font-size:12px;font-weight:400;color:#000;">16.21%</div>
<div class="t" style="left:87px;width:600px;text-align:right;top:570.54px;font-size:12px;font-weight:400;color:#000;">22.90%</div>
<div class="t" style="left:189px;width:600px;text-align:right;top:570.54px;font-size:12px;font-weight:400;color:#000;">11.55%</div>
<div class="t" style="left:298px;width:600px;text-align:right;top:570.54px;font-size:12px;font-weight:400;color:#000;">3.51%</div>
<div class="t" style="left:463px;width:600px;text-align:right;top:570.54px;font-size:12px;font-weight:400;color:#000;">-27.93%</div>
<div class="t" style="left:527px;width:600px;text-align:right;top:570.54px;font-size:12px;font-weight:400;color:#000;">3.60%</div>
<div class="t" style="left:594px;width:600px;text-align:right;top:570.54px;font-size:12px;font-weight:400;color:#000;">1.10%</div>
<div class="t" style="left:666.4000000000001px;width:600px;text-align:right;top:570.00px;font-size:15px;font-weight:700;color:#111;">6.78%</div>
<div class="t" style="left:488.3px;top:595.75px;font-size:14px;font-weight:700;color:#252423;">Total</div>
<div class="t" style="left:-4px;width:600px;text-align:right;top:595.75px;font-size:14px;font-weight:700;color:#252423;">16.21%</div>
<div class="t" style="left:87px;width:600px;text-align:right;top:595.75px;font-size:14px;font-weight:700;color:#252423;">22.90%</div>
<div class="t" style="left:189px;width:600px;text-align:right;top:595.75px;font-size:14px;font-weight:700;color:#252423;">11.55%</div>
<div class="t" style="left:298px;width:600px;text-align:right;top:595.75px;font-size:14px;font-weight:700;color:#252423;">3.51%</div>
<div class="t" style="left:463px;width:600px;text-align:right;top:595.75px;font-size:14px;font-weight:700;color:#252423;">-27.93%</div>
<div class="t" style="left:527px;width:600px;text-align:right;top:595.75px;font-size:14px;font-weight:700;color:#252423;">3.60%</div>
<div class="t" style="left:594px;width:600px;text-align:right;top:595.75px;font-size:14px;font-weight:700;color:#252423;">1.10%</div>
<div class="t" style="left:666.4000000000001px;width:600px;text-align:right;top:594.90px;font-size:15px;font-weight:700;color:#252423;">6.78%</div>
<div class="t" style="left:1231px;top:632.86px;font-size:10.8px;font-weight:400;color:#252423;">obviEnce &copy;</div>
</body></html>
